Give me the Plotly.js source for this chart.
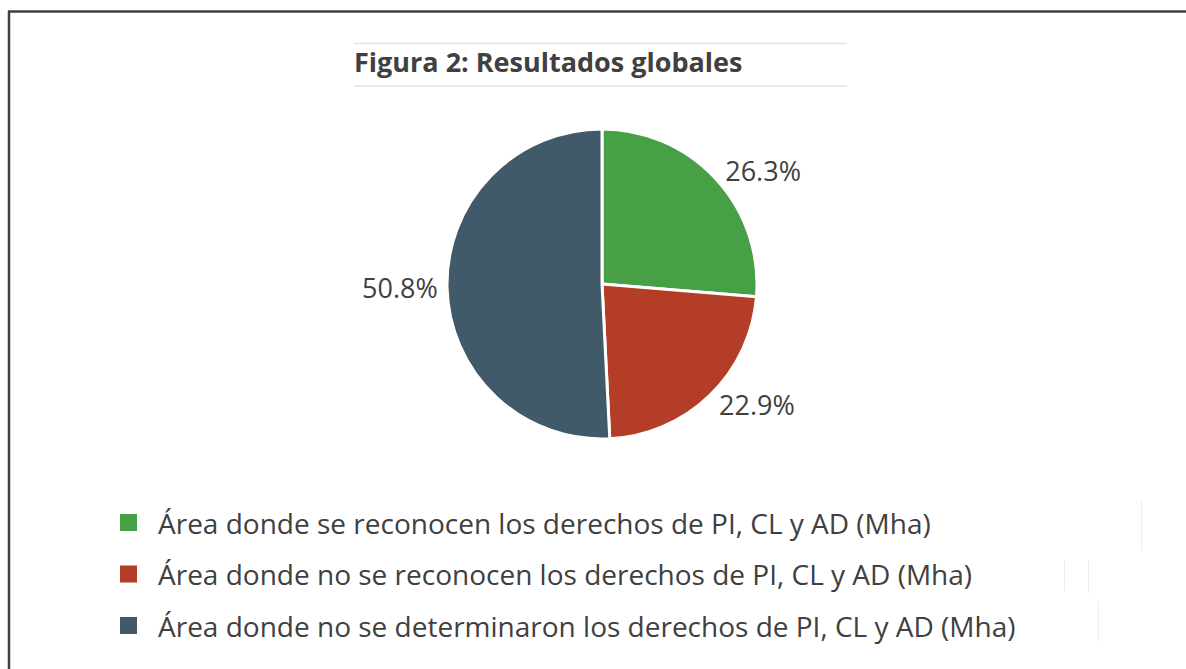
<!DOCTYPE html>
<html>
<head>
<meta charset="utf-8">
<script src="https://cdn.plot.ly/plotly-3.0.1.min.js"></script>
<style>html,body{margin:0;padding:0;background:#fff;}#chart{width:1186px;height:669px;}</style>
</head>
<body>
<div id="chart"></div>
<script>
// ---- data ----
var categories = [
  "Área donde se reconocen los derechos de PI, CL y AD (Mha)",
  "Área donde no se reconocen los derechos de PI, CL y AD (Mha)",
  "Área donde no se determinaron los derechos de PI, CL y AD (Mha)"
];
var shares = [26.3, 22.9, 50.8];
var sliceColors = ["#48a046", "#b33d26", "#415a69"];
var chartTitle = "Figura 2: Resultados globales";

// ---- layout helpers (pixel -> paper) ----
var W = 1186, H = 669;
function px(x){ return x / W; }
function py(y){ return 1 - y / H; }

var cx = 602, cy = 284, r = 155;

var trace = {
  type: "pie",
  values: shares,
  labels: categories,
  sort: false,
  direction: "clockwise",
  rotation: 0,
  marker: { colors: sliceColors, line: { color: "#ffffff", width: 3 } },
  textinfo: "percent",
  texttemplate: "%{value:.1f}%",
  textposition: "outside",
  outsidetextfont: { family: "Open Sans, sans-serif", size: 27, color: "#404040" },
  hoverinfo: "label+percent",
  showlegend: false,
  automargin: false,
  domain: { x: [px(cx - r), px(cx + r)], y: [py(cy + r), py(cy - r)] }
};

var shapes = [
  // outer frame (left + top)
  { type: "line", xref: "paper", yref: "paper", x0: px(9), x1: px(9), y0: py(11), y1: py(669), line: { color: "#404040", width: 2.5 } },
  { type: "line", xref: "paper", yref: "paper", x0: px(8), x1: px(1186), y0: py(11.5), y1: py(11.5), line: { color: "#404040", width: 2.5 } },
  // title rules
  { type: "line", xref: "paper", yref: "paper", x0: px(354), x1: px(847), y0: py(43.5), y1: py(43.5), line: { color: "#e3e3e3", width: 1.5 } },
  { type: "line", xref: "paper", yref: "paper", x0: px(354), x1: px(847), y0: py(86), y1: py(86), line: { color: "#e3e3e3", width: 1.5 } },
  // faint vertical artefacts
  { type: "line", xref: "paper", yref: "paper", x0: px(1141.5), x1: px(1141.5), y0: py(501), y1: py(551), line: { color: "#ececec", width: 1 } },
  { type: "line", xref: "paper", yref: "paper", x0: px(1064.5), x1: px(1064.5), y0: py(560), y1: py(591), line: { color: "#ececec", width: 1 } },
  { type: "line", xref: "paper", yref: "paper", x0: px(1088.5), x1: px(1088.5), y0: py(560), y1: py(593), line: { color: "#ececec", width: 1 } },
  { type: "line", xref: "paper", yref: "paper", x0: px(1098.5), x1: px(1098.5), y0: py(602), y1: py(642), line: { color: "#ececec", width: 1 } }
];

var annotations = [
  { text: "<b>" + chartTitle + "</b>", xref: "paper", yref: "paper", x: px(352), y: py(62), xanchor: "left", yanchor: "middle", showarrow: false,
    font: { family: "Open Sans, sans-serif", size: 27, color: "#404040" } }
];

// legend built from categories / colours
var legX = 120, legY0 = 522.5, legGap = 51.5, sq = 17;
for (var i = 0; i < categories.length; i++) {
  var yc = legY0 + i * legGap;
  shapes.push({ type: "rect", xref: "paper", yref: "paper", x0: px(legX), x1: px(legX + sq), y0: py(yc + sq / 2), y1: py(yc - sq / 2),
    fillcolor: sliceColors[i], line: { width: 0 } });
  annotations.push({ text: categories[i], xref: "paper", yref: "paper", x: px(156), y: py(yc), xanchor: "left", yanchor: "middle", showarrow: false,
    font: { family: "Open Sans, sans-serif", size: 28, color: "#404040" } });
}

var layout = {
  width: W, height: H,
  margin: { l: 0, r: 0, t: 0, b: 0 },
  paper_bgcolor: "#ffffff",
  plot_bgcolor: "#ffffff",
  showlegend: false,
  shapes: shapes,
  annotations: annotations
};

Plotly.newPlot("chart", [trace], layout, { displayModeBar: false, staticPlot: true });
</script>
</body>
</html>
